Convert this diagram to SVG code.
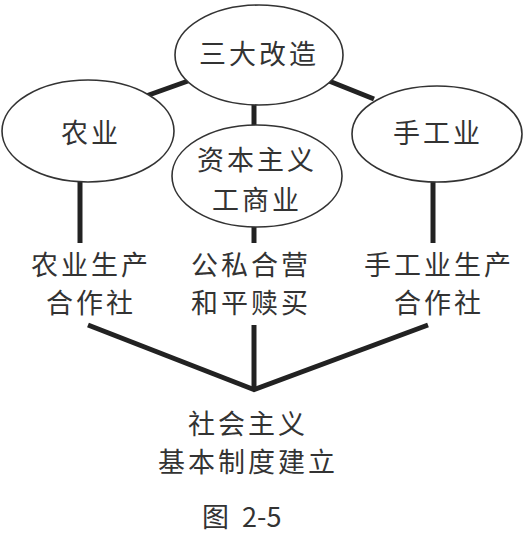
<svg xmlns="http://www.w3.org/2000/svg" width="524" height="535" viewBox="0 0 524 535">
<style>
.n ellipse{fill:#fff;stroke:#333;stroke-width:1.6}
text{font-family:"Noto Sans CJK SC","Noto Sans",sans-serif;font-size:27px;fill:#333;text-anchor:middle;letter-spacing:3px}
.c line{stroke:#222;stroke-width:5;stroke-linecap:butt}
</style>
<rect width="524" height="535" fill="#fff"/>
<g class="c" id="connectors">
<line x1="146" y1="96" x2="188" y2="81"/>
<line x1="329" y1="81" x2="374" y2="99"/>
<line x1="254" y1="104" x2="254" y2="126"/>
<line x1="80" y1="181" x2="80" y2="243"/>
<line x1="254" y1="227" x2="254" y2="243"/>
<line x1="433" y1="181" x2="433" y2="243"/>
<line x1="88" y1="325" x2="255" y2="390"/>
<line x1="254" y1="325" x2="254" y2="390"/>
<line x1="428" y1="325" x2="253" y2="390"/>
</g>
<g class="n" id="n-top"><ellipse cx="259" cy="55" rx="84" ry="50"/><text x="259" y="64">三大改造</text></g>
<g class="n" id="n-agri"><ellipse cx="88" cy="131" rx="86" ry="51"/><text x="91" y="143">农业</text></g>
<g class="n" id="n-cap"><ellipse cx="257" cy="176" rx="85" ry="51"/><text x="257" y="170">资本主义</text><text x="257" y="210">工商业</text></g>
<g class="n" id="n-hand"><ellipse cx="437" cy="134" rx="85" ry="48"/><text x="438" y="143">手工业</text></g>
<g id="t-agri"><text x="91" y="275">农业生产</text><text x="91" y="313">合作社</text></g>
<g id="t-cap"><text x="251" y="275">公私合营</text><text x="251" y="313">和平赎买</text></g>
<g id="t-hand"><text x="439" y="275">手工业生产</text><text x="439" y="313">合作社</text></g>
<g id="t-soc"><text x="248" y="434">社会主义</text><text x="248" y="472">基本制度建立</text></g>
<text x="202" y="527" style="letter-spacing:0;text-anchor:start">图<tspan dx="7"> 2-5</tspan></text>
</svg>
